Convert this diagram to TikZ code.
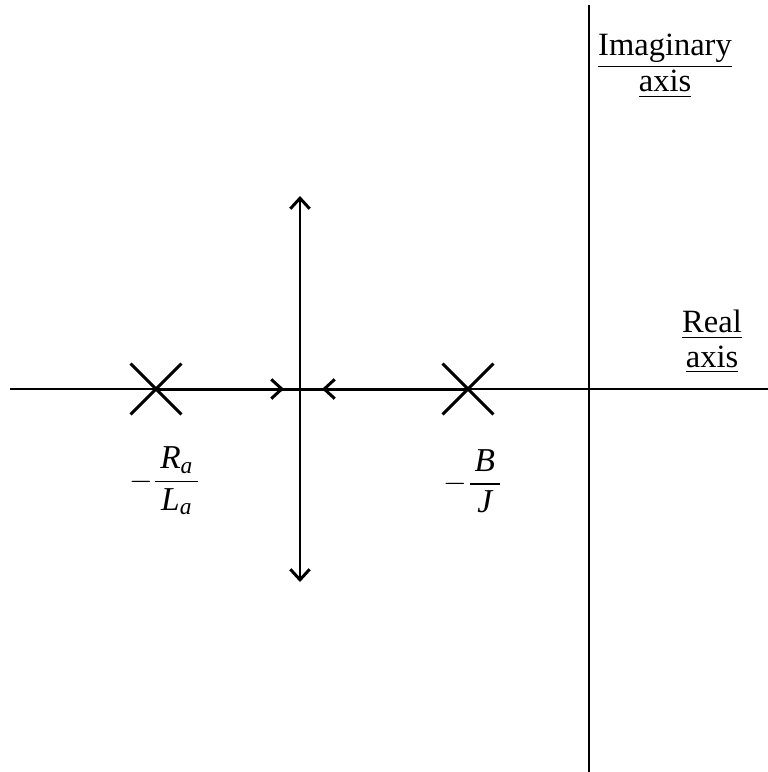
\documentclass[tikz,border=0pt]{standalone}
\usepackage{amsmath}
\usepackage{fontspec}
\setmainfont{Liberation Serif}
\usetikzlibrary{shapes.misc,arrows.meta}

\begin{document}
\begin{tikzpicture}[x=0.02cm,y=-0.02cm,
  axis/.style={line width=0.6pt},
  locus/.style={line width=1.7pt},
  pole/.style={cross out,draw,line width=1.7pt,minimum size=0.96cm,inner sep=0pt},
  tip/.style={-{Straight Barb[length=6pt,width=11pt,line width=1.7pt]}},
  axislabel/.style={align=center,font=\fontsize{18.5}{19.5}\selectfont},
  polelabel/.style={font=\fontsize{19}{22}\selectfont}
]
\useasboundingbox (0,0) rectangle (768,772);

\coordinate (xl) at (10,389);
\coordinate (xr) at (768,389);
\coordinate (yt) at (589,5);
\coordinate (yb) at (589,772);
\draw[axis] (xl)--(xr);
\draw[axis] (yt)--(yb);

\node[pole] (pl) at (156,389) {};
\node[pole] (pr) at (468,389) {};
\coordinate (brk) at (300,389);
\coordinate (tl) at (284,389);
\coordinate (tr) at (322,389);
\coordinate (up) at (300,196);
\coordinate (dn) at (300,582);

\draw[locus] (pl.center)--(pr.center);
\draw[locus,tip] (pl.center)--(tl);
\draw[locus,tip] (pr.center)--(tr);
\draw[locus,tip] (brk)--(up);
\draw[locus,tip] (brk)--(dn);

\node[polelabel] (ll) at (165,481) {$\displaystyle -\frac{\,\textit{R}_{\textit{a}}\,}{\,\textit{L}_{\textit{a}}\,}$};
\node[polelabel] (lr) at (473,481) {$\displaystyle -\frac{\,\textit{B}\,}{\,\textit{J}\,}$};

\node[axislabel] (im) at (665,66) {\underline{Imaginary}\\\underline{axis}};
\node[axislabel] (re) at (712,342) {\underline{Real}\\\underline{axis}};
\end{tikzpicture}
\end{document}
